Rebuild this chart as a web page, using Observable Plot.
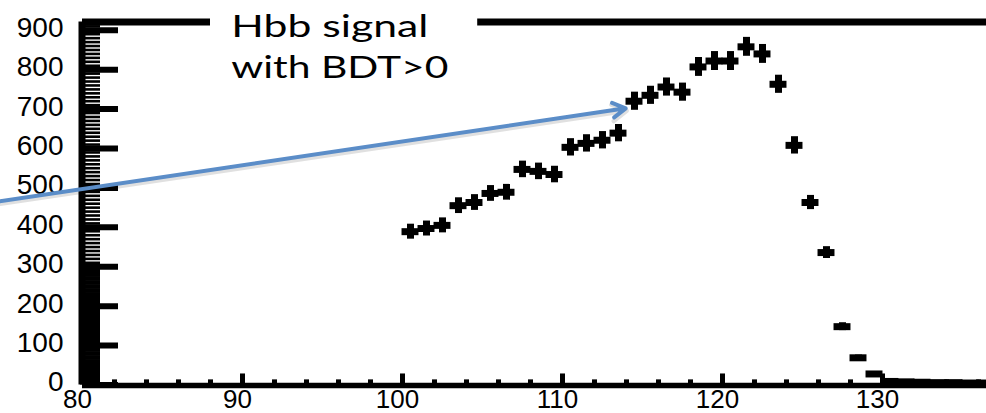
<!DOCTYPE html>
<html>
<head>
<meta charset="utf-8">
<script src="https://cdn.jsdelivr.net/npm/d3@7"></script>
<script src="https://cdn.jsdelivr.net/npm/@observablehq/plot@0.6"></script>
<style>
  html, body { margin: 0; padding: 0; background: #fff; }
  #chart svg { display: block; }
</style>
</head>
<body>
<div id="chart"></div>
<script>
// Invariant-mass bins (GeV), 1 GeV wide, given by their centres
const massBins = [
  100.5, 101.5, 102.5, 103.5, 104.5, 105.5, 106.5, 107.5, 108.5, 109.5,
  110.5, 111.5, 112.5, 113.5, 114.5, 115.5, 116.5, 117.5, 118.5, 119.5,
  120.5, 121.5, 122.5, 123.5, 124.5, 125.5, 126.5, 127.5, 128.5, 129.5,
  130.5, 131.5, 132.5, 133.5, 134.5, 135.5, 136.5
];
// Events per bin
const counts = [
  389, 397, 405, 455, 463, 486, 489, 547, 542, 534,
  603, 613, 621, 639, 720, 735, 756, 743, 807, 822,
  822, 858, 840, 763, 608, 463, 336, 148, 69, 28,
  9, 8, 7, 6, 6, 5, 5
];
// Statistical uncertainty per bin
const errors = [
  19, 19, 19, 20, 20, 20, 20, 21, 21, 21,
  22, 22, 22, 22, 23, 23, 23, 23, 24, 24,
  24, 24, 24, 23, 22, 18, 15, 10, 7, 5,
  3, 3, 3, 3, 3, 3, 3
];
const binWidth = 1;

// Axis ticks
const xMajorTicks = [80, 90, 100, 110, 120, 130];
const xMinorTicks = [82, 84, 86, 88, 92, 94, 96, 98, 102, 104, 106, 108, 112, 114, 116, 118, 122, 124, 126, 128, 132, 134, 136];
const yMajorTicks = [0, 100, 200, 300, 400, 500, 600, 700, 800, 900];
const yMinorTicks = d3.range(10, 921, 10).filter(v => v % 100 !== 0);

// Annotation: label box and arrow pointing at the distribution
const noteLines = ["Hbb signal", "with BDT>0"];
const noteAt = {x: 89.3, y: [882, 780]};
const noteBox = {x1: 88, x2: 104.7, y1: 755, y2: 990};
const pointer = {x1: 74.8, y1: 466, x2: 113.95, y2: 702};

const xMin = 80, xMax = 136.5, yMax = 921;

const bins = massBins.map((m, i) => ({m, n: counts[i], e: errors[i]}));

const chart = Plot.plot({
  width: 986,
  height: 413,
  marginLeft: 82,
  marginRight: 0,
  marginTop: 21.5,
  marginBottom: 28.5,
  style: {fontFamily: "'Liberation Sans', Arial, sans-serif", color: "#000", background: "#fff"},
  x: {domain: [xMin, xMax]},
  y: {domain: [0, yMax]},
  marks: [
    // data points: horizontal bin-width bars and vertical error bars
    Plot.ruleY(bins, {y: "n", x1: d => d.m - 0.53 * binWidth, x2: d => d.m + 0.53 * binWidth, stroke: "#000", strokeWidth: 7}),
    Plot.ruleX(bins, {x: "m", y1: d => d.n - d.e, y2: d => d.n + d.e, stroke: "#000", strokeWidth: 7}),

    // frame lines
    Plot.ruleY([0], {x1: xMin, x2: xMax, stroke: "#000", strokeWidth: 5.5, dy: 0.5}),
    Plot.ruleY([yMax], {x1: xMin, x2: xMax, stroke: "#000", strokeWidth: 7}),
    Plot.ruleX([xMin], {y1: 0, y2: yMax, stroke: "#000", strokeWidth: 7, dx: -0.5}),

    // x ticks (inside)
    Plot.ruleX(xMajorTicks, {x: d => d, y1: 0, y2: 28, stroke: "#000", strokeWidth: 5}),
    Plot.ruleX(xMinorTicks, {x: d => d, y1: 0, y2: 13, stroke: "#000", strokeWidth: 5}),

    // y ticks (inside)
    Plot.ruleY(yMinorTicks.filter(v => v >= 300), {y: d => d, x1: xMin, x2: xMin + 1.125, stroke: "#000", strokeWidth: 2.6}),
    Plot.ruleY(yMinorTicks.filter(v => v < 300), {y: d => d, x1: xMin, x2: xMin + 1.125, stroke: "#000", strokeWidth: 4.6}),
    Plot.ruleY(yMajorTicks, {y: d => d, x1: xMin, x2: xMin + 2.25, stroke: "#000", strokeWidth: 6}),

    // tick labels
    Plot.axisY(yMajorTicks, {tickSize: 0, tickPadding: 19, fontSize: 28, dy: -2.5, label: null, tickFormat: d => String(d)}),
    Plot.axisX(xMajorTicks, {tickSize: 0, tickPadding: 4.5, fontSize: 26, dx: -5, label: null, tickFormat: d => String(d)}),

    // annotation box and text
    Plot.rect([noteBox], {x1: "x1", x2: "x2", y1: "y1", y2: "y2", fill: "#fff"}),
    Plot.text(noteLines, {
      x: () => noteAt.x, y: (d, i) => noteAt.y[i], text: d => d,
      textAnchor: "start", lineAnchor: "bottom",
      fontFamily: "Lato, 'Open Sans', sans-serif", fontSize: 31, fill: "#000"
    }),

    // pointer arrow with soft shadow
    Plot.arrow([pointer], {x1: "x1", y1: "y1", x2: "x2", y2: "y2", stroke: "#000", strokeOpacity: 0.12, strokeWidth: 4.5, headLength: 5.5, dx: 1, dy: 2.5}),
    Plot.arrow([pointer], {x1: "x1", y1: "y1", x2: "x2", y2: "y2", stroke: "#5b8dc8", strokeWidth: 4, headLength: 5.5})
  ]
});

// stretch the annotation lines to their set-width box
const noteWidths = {"Hbb signal": 197, "with BDT>0": 217};
d3.select(chart).selectAll("text").each(function () {
  const w = noteWidths[this.textContent];
  if (w) {
    this.setAttribute("textLength", w);
    this.setAttribute("lengthAdjust", "spacingAndGlyphs");
  }
});

document.getElementById("chart").appendChild(chart);
</script>
</body>
</html>
